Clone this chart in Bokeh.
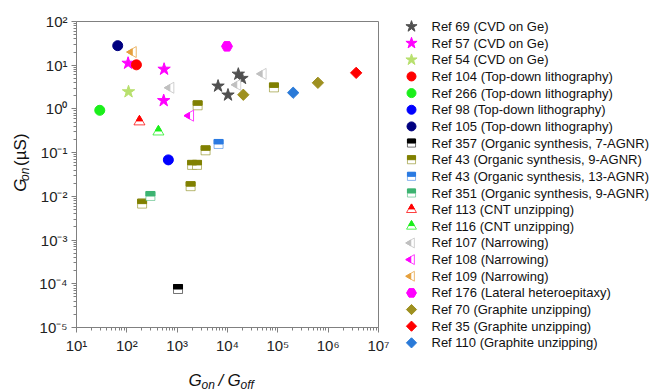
import math

from bokeh.core.properties import value
from bokeh.embed import file_html
from bokeh.layouts import column, row
from bokeh.models import (CustomJSTickFormatter, FixedTicker, LinearScale,
                          LogScale, Range1d)
from bokeh.plotting import figure
from bokeh.resources import INLINE

# ---------------------------------------------------------------------------
# Data: on/off ratio (G_on / G_off) and on-state conductance G_on (µS)
# ---------------------------------------------------------------------------
ref69_x = [6490, 10230, 16400, 19400]
ref69_y = [3.33, 2.08, 6.24, 4.99]
ref57_x = [106, 550, 540]
ref57_y = [11.1, 8.1, 1.55]
ref54_x = [108]
ref54_y = [2.47]
ref104_x = [155]
ref104_y = [10.2]
ref266_x = [29]
ref266_y = [0.93]
ref98_x = [668]
ref98_y = [0.0683]
ref105_x = [65.9]
ref105_y = [28.0]
ref357_x = [1040]
ref357_y = [7.6e-5]
ref43_9_x = [2550, 83700, 3670, 1980, 2480, 1850, 201]
ref43_9_y = [1.21, 3.11, 0.113, 0.0525, 0.0525, 0.0171, 0.00682]
ref43_13_x = [6650]
ref43_13_y = [0.158]
ref351_x = [294]
ref351_y = [0.0102]
ref113_x = [178]
ref113_y = [0.51]
ref116_x = [424]
ref116_y = [0.30]
ref107_x = [743, 15850, 50600]
ref107_y = [3.05, 3.56, 6.34]
ref108_x = [1829]
ref108_y = [0.70]
ref109_x = [133]
ref109_y = [20.0]
ref176_x = [9770]
ref176_y = [27.0]
ref70_x = [20600, 625000]
ref70_y = [2.11, 3.96]
ref35_x = [3.6e6]
ref35_y = [6.68]
ref110_x = [202000]
ref110_y = [2.35]

series_labels = [
    "Ref 69 (CVD on Ge)",
    "Ref 57 (CVD on Ge)",
    "Ref 54 (CVD on Ge)",
    "Ref 104 (Top-down lithography)",
    "Ref 266 (Top-down lithography)",
    "Ref 98 (Top-down lithography)",
    "Ref 105 (Top-down lithography)",
    "Ref 357 (Organic synthesis, 7-AGNR)",
    "Ref 43 (Organic synthesis, 9-AGNR)",
    "Ref 43 (Organic synthesis, 13-AGNR)",
    "Ref 351 (Organic synthesis, 9-AGNR)",
    "Ref 113 (CNT unzipping)",
    "Ref 116 (CNT unzipping)",
    "Ref 107 (Narrowing)",
    "Ref 108 (Narrowing)",
    "Ref 109 (Narrowing)",
    "Ref 176 (Lateral heteroepitaxy)",
    "Ref 70 (Graphite unzipping)",
    "Ref 35 (Graphite unzipping)",
    "Ref 110 (Graphite unzipping)",
]
series_kinds = [
    "star", "star", "star",
    "circle", "circle", "circle", "circle",
    "halfsquare", "halfsquare", "halfsquare", "halfsquare",
    "halftri", "halftri",
    "halfleft", "halfleft", "halfleft",
    "hexagon",
    "diamond", "diamond", "diamond",
]
series_colors = [
    "#505050", "#ff00ff", "#b8e06e",
    "#ff0000", "#1aef1a", "#0000ff", "#000080",
    "#000000", "#808000", "#2a7ae2", "#3cb371",
    "#ff0000", "#1aef1a",
    "#c0c0c0", "#ff00ff", "#e6a03c",
    "#ff00ff",
    "#9e9020", "#ff0000", "#2a7ad8",
]
series_x = [ref69_x, ref57_x, ref54_x, ref104_x, ref266_x, ref98_x, ref105_x,
            ref357_x, ref43_9_x, ref43_13_x, ref351_x, ref113_x, ref116_x,
            ref107_x, ref108_x, ref109_x, ref176_x, ref70_x, ref35_x, ref110_x]
series_y = [ref69_y, ref57_y, ref54_y, ref104_y, ref266_y, ref98_y, ref105_y,
            ref357_y, ref43_9_y, ref43_13_y, ref351_y, ref113_y, ref116_y,
            ref107_y, ref108_y, ref109_y, ref176_y, ref70_y, ref35_y, ref110_y]

FONT = "Liberation Sans"
AXIS_GRAY = "#808080"
TEXT_COLOR = "#111111"

# page geometry (pixels)
TOTAL_W, TOTAL_H = 653, 390
YLAB_W = 36                    # strip holding the rotated y title
PLOT_W, PLOT_H = 364, 356      # main plot (frame + tick labels)
XLAB_H = TOTAL_H - PLOT_H      # strip holding the x title
LEFT_W = YLAB_W + PLOT_W
LEGEND_W = TOTAL_W - LEFT_W
FRAME_L, FRAME_T = 40, 21      # frame offsets inside the main plot
FRAME_W, FRAME_H = 302, 308


def shifted_range(rng, px, frame_px, log):
    """Copy of a range moved so that glyphs on it appear `px` screen pixels
    further along the axis (right for x, up for y)."""
    if log:
        a, b = math.log10(rng.start), math.log10(rng.end)
        d = px / frame_px * (b - a)
        return Range1d(start=10 ** (a - d), end=10 ** (b - d))
    d = px / frame_px * (rng.end - rng.start)
    return Range1d(start=rng.start - d, end=rng.end - d)


def shift_name(fig, axis, px, frame_px, log):
    name = f"{axis}_shift_{px:.2f}".replace(".", "_").replace("-", "m")
    if axis == "y":
        if name not in fig.extra_y_ranges:
            fig.extra_y_ranges = {**fig.extra_y_ranges,
                                  name: shifted_range(fig.y_range, px, frame_px, log)}
            fig.extra_y_scales = {**fig.extra_y_scales,
                                  name: LogScale() if log else LinearScale()}
    else:
        if name not in fig.extra_x_ranges:
            fig.extra_x_ranges = {**fig.extra_x_ranges,
                                  name: shifted_range(fig.x_range, px, frame_px, log)}
            fig.extra_x_scales = {**fig.extra_x_scales,
                                  name: LogScale() if log else LinearScale()}
    return name


def draw_marker(fig, kind, color, xs, ys, scale, log, fw, fh):
    if kind == "star":
        fig.scatter(xs, ys, marker="star", size=13 * scale,
                    fill_color=color, line_color=color)
    elif kind == "circle":
        fig.scatter(xs, ys, marker="circle", size=10 * scale,
                    fill_color=color, line_color=color)
    elif kind == "hexagon":
        fig.scatter(xs, ys, marker="hex", size=11 * scale,
                    fill_color=color, line_color=color)
    elif kind == "diamond":
        fig.scatter(xs, ys, marker="square", size=8 * scale, angle=math.pi / 4,
                    fill_color=color, line_color=color)
    elif kind == "halfsquare":
        a = 9 * scale
        fig.scatter(xs, ys, marker="square", size=a, fill_color="white",
                    line_color=color, line_alpha=0.55, line_width=1)
        up = shift_name(fig, "y", a / 4, fh, log)
        fig.rect(xs, ys, width=a, height=a / 2, width_units="screen",
                 height_units="screen", y_range_name=up,
                 fill_color=color, line_color=color, line_width=1)
    elif kind in ("halftri", "halfleft"):
        a = 11 * scale
        f = 0.58
        h1 = a / 2 * math.sqrt(3)
        off = 2.0 / 3.0 * (h1 - f * h1)
        ang = 0.0 if kind == "halftri" else math.pi / 2
        fig.scatter(xs, ys, marker="triangle", size=a, angle=ang, fill_color="white",
                    line_color=color, line_alpha=0.75, line_width=1)
        if kind == "halftri":
            rn = shift_name(fig, "y", off, fh, log)
            fig.scatter(xs, ys, marker="triangle", size=a * f, angle=ang,
                        y_range_name=rn, fill_color=color, line_color=color)
        else:
            rn = shift_name(fig, "x", -off, fw, log)
            fig.scatter(xs, ys, marker="triangle", size=a * f, angle=ang,
                        x_range_name=rn, fill_color=color, line_color=color)


def blank_panel(w, h):
    """A borderless figure whose data units are pixels measured from its top-left."""
    f = figure(width=w, height=h, x_range=Range1d(0, w), y_range=Range1d(h, 0),
               output_backend="svg", toolbar_location=None,
               x_axis_location=None, y_axis_location=None, min_border=0)
    f.outline_line_color = None
    f.grid.visible = False
    f.background_fill_color = "white"
    f.border_fill_color = "white"
    return f


# ---------------------------------------------------------------------------
# Main log-log scatter plot
# ---------------------------------------------------------------------------
p = figure(width=PLOT_W, height=PLOT_H,
           x_axis_type="log", y_axis_type="log",
           x_range=Range1d(1e1, 1e7), y_range=Range1d(1e-5, 1e2),
           output_backend="svg", toolbar_location=None,
           min_border_left=FRAME_L, min_border_right=PLOT_W - FRAME_L - FRAME_W,
           min_border_top=FRAME_T, min_border_bottom=PLOT_H - FRAME_T - FRAME_H)
p.grid.visible = False
p.outline_line_color = AXIS_GRAY
p.outline_line_width = 1
p.background_fill_color = "white"
p.border_fill_color = "white"

sup_formatter = CustomJSTickFormatter(code="""
const sup = {"-": "\u207b", "0": "\u2070", "1": "\u00b9", "2": "\u00b2", "3": "\u00b3",
             "4": "\u2074", "5": "\u2075", "6": "\u2076", "7": "\u2077", "8": "\u2078",
             "9": "\u2079"};
const e = Math.round(Math.log10(tick));
return "10" + String(e).split("").map(c => sup[c]).join("");
""")

x_decades = list(range(1, 8))
y_decades = list(range(-5, 3))
p.xaxis.ticker = FixedTicker(
    ticks=[10.0 ** k for k in x_decades],
    minor_ticks=[m * 10.0 ** k for k in x_decades[:-1] for m in range(2, 10)])
p.yaxis.ticker = FixedTicker(
    ticks=[10.0 ** k for k in y_decades],
    minor_ticks=[m * 10.0 ** k for k in y_decades[:-1] for m in range(2, 10)])

for ax in (p.xaxis[0], p.yaxis[0]):
    ax.formatter = sup_formatter
    ax.axis_line_color = AXIS_GRAY
    ax.major_tick_line_color = AXIS_GRAY
    ax.minor_tick_line_color = AXIS_GRAY
    ax.major_tick_in = 0
    ax.major_tick_out = 5
    ax.minor_tick_in = 0
    ax.minor_tick_out = 3
    ax.major_label_text_font = FONT
    ax.major_label_text_font_size = "15px"
    ax.major_label_text_color = "#222222"
p.xaxis.major_label_standoff = 4
p.yaxis.major_label_standoff = 4

for kind, color, xs, ys in zip(series_kinds, series_colors, series_x, series_y):
    draw_marker(p, kind, color, xs, ys, 1.0, True, FRAME_W, FRAME_H)

# ---------------------------------------------------------------------------
# Axis titles with subscripts, set piece by piece
# ---------------------------------------------------------------------------
ylab = blank_panel(YLAB_W, PLOT_H)
# pieces of "G_on (µS)" reading upwards: (text, baseline x, start y, size, style)
ylab_parts = [("G", 20, 198, 17, "italic"),
              ("on", 24, 185.5, 12, "italic"),
              ("(µS)", 20, 168, 17, "normal")]
for txt, bx, sy, size, style in ylab_parts:
    ylab.text(x=[bx], y=[sy], text=[txt], angle=math.pi / 2,
              text_font=value(FONT), text_font_size=f"{size}px",
              text_font_style=style, text_color=TEXT_COLOR,
              text_align="left", text_baseline="alphabetic")

xlab = blank_panel(LEFT_W, XLAB_H)
# pieces of "G_on / G_off": (text, start x, baseline y, size, style)
XBASE = 380 - PLOT_H
xlab_parts = [("G", 188, XBASE, 17, "italic"),
              ("on", 201, XBASE + 4, 12, "italic"),
              ("/", 218, XBASE, 17, "italic"),
              ("G", 227, XBASE, 17, "italic"),
              ("off", 240, XBASE + 4, 12, "italic")]
for txt, sx, by, size, style in xlab_parts:
    xlab.text(x=[sx], y=[by], text=[txt],
              text_font=value(FONT), text_font_size=f"{size}px",
              text_font_style=style, text_color=TEXT_COLOR,
              text_align="left", text_baseline="alphabetic")

# ---------------------------------------------------------------------------
# Legend panel
# ---------------------------------------------------------------------------
leg = blank_panel(LEGEND_W, TOTAL_H)

ROW0, ROW_STEP = 26.0, 16.65
MARK_X, TEXT_X = 11.0, 31.0
row_y = [ROW0 + i * ROW_STEP for i in range(len(series_labels))]

for i, (kind, color) in enumerate(zip(series_kinds, series_colors)):
    draw_marker(leg, kind, color, [MARK_X], [row_y[i]], 0.9, False, LEGEND_W, TOTAL_H)

leg.text(x=[TEXT_X] * len(series_labels), y=row_y, text=series_labels,
         text_font=value(FONT), text_font_size="13px", text_color=TEXT_COLOR,
         text_baseline="middle", text_align="left")

layout = row(column(row(ylab, p), xlab), leg)
open("out.html", "w").write(file_html(layout, INLINE))
